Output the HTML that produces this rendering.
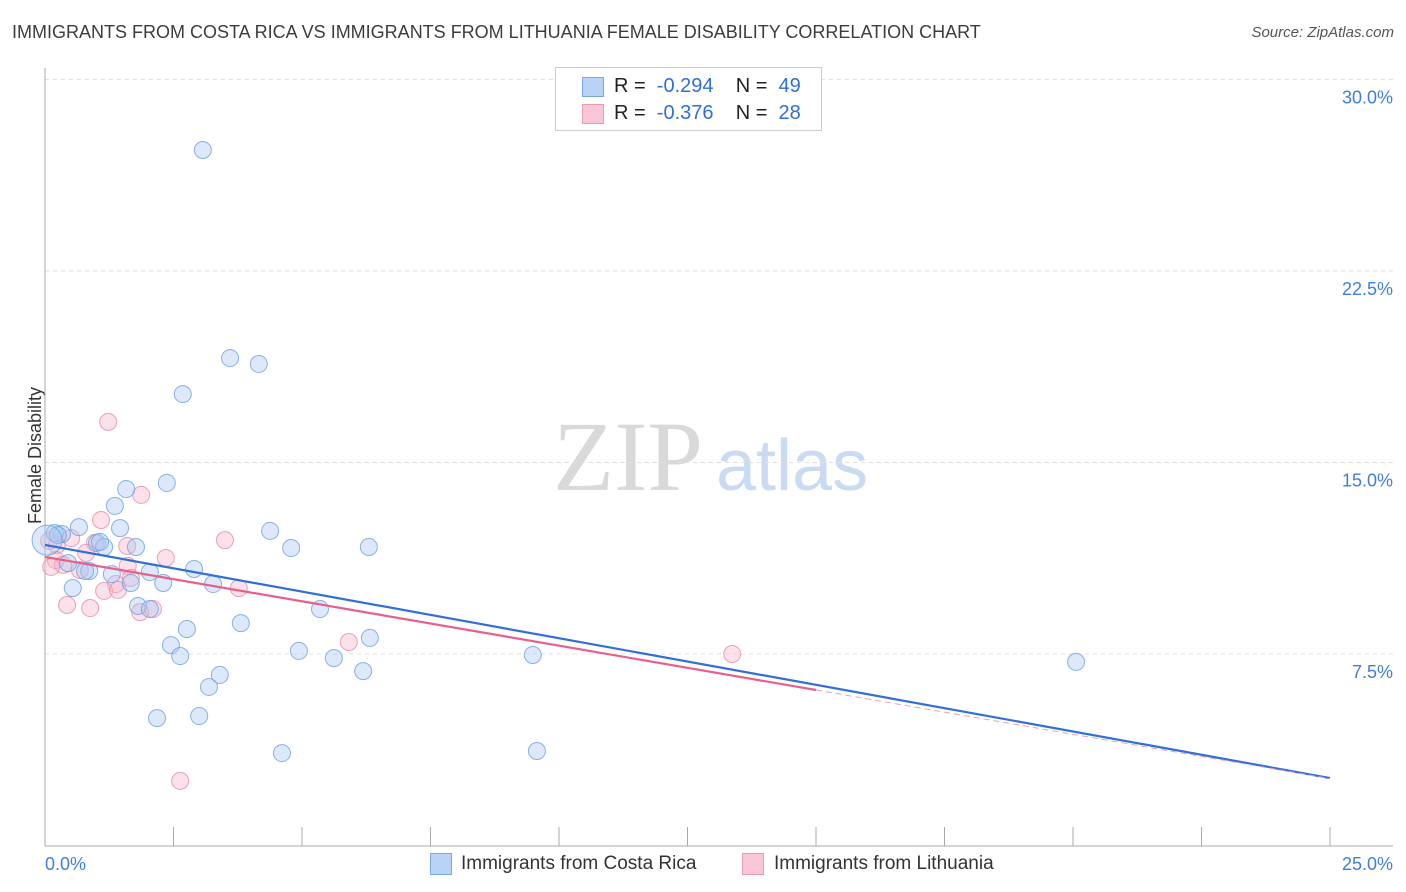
<!DOCTYPE html>
<html><head><meta charset="utf-8">
<style>
body{margin:0;background:#fff;font-family:"Liberation Sans",sans-serif;}
#wrap{position:relative;width:1406px;height:892px;overflow:hidden;}
.t{position:absolute;white-space:nowrap;}
</style></head>
<body>
<div id="wrap">
<div class="t" style="left:12px;top:22px;font-size:18px;color:#3c3c3c;">IMMIGRANTS FROM COSTA RICA VS IMMIGRANTS FROM LITHUANIA FEMALE DISABILITY CORRELATION CHART</div>
<div class="t" style="right:12px;top:24px;font-size:15px;color:#555;font-style:italic;">Source: ZipAtlas.com</div>
<div class="t" style="left:-33px;top:445px;font-size:18px;color:#333;transform:rotate(-90deg);">Female Disability</div>
<svg id="svg" width="1406" height="892" style="position:absolute;left:0;top:0;"></svg>
<div style="position:absolute;left:555px;top:67px;width:265px;height:62px;border:1px solid #ccc;background:#fff;font-size:20px;">
 <div style="position:absolute;left:26px;top:9px;width:20px;height:18px;background:#b8d3f5;border:1px solid #7aa8e6;"></div>
 <div class="t" style="left:58px;top:7px;color:#222;">R = &nbsp;<span style="color:#2f6fd6">-0.294</span>&nbsp;&nbsp;&nbsp;&nbsp;N = &nbsp;<span style="color:#2f6fd6">49</span></div>
 <div style="position:absolute;left:26px;top:36px;width:20px;height:18px;background:#f8c6d6;border:1px solid #eb9ab5;"></div>
 <div class="t" style="left:58px;top:34px;color:#222;">R = &nbsp;<span style="color:#2f6fd6">-0.376</span>&nbsp;&nbsp;&nbsp;&nbsp;N = &nbsp;<span style="color:#2f6fd6">28</span></div>
</div>
<div style="position:absolute;left:430px;top:853px;width:20px;height:20px;background:#b8d3f5;border:1px solid #7aa8e6;"></div>
<div class="t" style="left:461px;top:853px;font-size:19px;color:#333;">Immigrants from Costa Rica</div>
<div style="position:absolute;left:742px;top:853px;width:20px;height:20px;background:#f8c6d6;border:1px solid #eb9ab5;"></div>
<div class="t" style="left:774px;top:853px;font-size:19px;color:#333;">Immigrants from Lithuania</div>
</div>
<script>
const blueX=[3.07,3.60,4.16,2.68,2.37,1.58,1.36,0.66,0.33,0.19,1.46,1.01,1.15,1.77,4.38,4.79,6.30,0.45,0.86,1.30,2.04,2.90,2.30,3.27,0.54,1.67,1.81,2.04,5.35,3.81,2.76,2.45,2.63,4.94,5.62,6.32,6.19,9.49,3.40,3.19,2.18,3.00,4.61,9.57,20.06,0.25,0.78,1.07,0.04];
const blueY=[27.24,19.09,18.86,17.68,14.20,13.96,13.30,12.47,12.20,12.24,12.43,11.85,11.69,11.69,12.32,11.65,11.69,11.06,10.75,10.63,10.71,10.83,10.28,10.24,10.08,10.28,9.38,9.26,9.26,8.71,8.48,7.85,7.42,7.62,7.34,8.13,6.83,7.46,6.68,6.21,4.99,5.07,3.62,3.70,7.19,12.16,10.75,11.89,11.96];
const pinkX=[1.23,1.87,1.09,0.08,0.23,0.51,0.97,1.60,0.80,2.35,3.50,0.21,0.35,0.12,0.68,1.61,1.67,1.38,1.15,1.42,3.77,0.43,0.88,1.85,2.10,5.91,13.37,2.63];
const pinkY=[16.59,13.73,12.75,11.93,11.77,12.04,11.85,11.73,11.46,11.26,11.96,11.18,10.99,10.91,10.79,10.95,10.48,10.24,9.97,10.01,10.08,9.42,9.30,9.14,9.26,7.97,7.50,2.53];
const blueTrend=[11.77,2.64];
const pinkTrend=[11.30,6.09,2.62];
const pinkTrendX=[0,15,25];
const yTicks=[7.5,15,22.5,30];
const yTickLabels=["7.5%","15.0%","22.5%","30.0%"];

const X=v=>45+v/25*1285;
const Y=v=>845.5-v/7.5*191.5;
const svg=document.getElementById('svg');
const NS='http://www.w3.org/2000/svg';
function mk(tag,attrs){const e=document.createElementNS(NS,tag);for(const k in attrs)e.setAttribute(k,attrs[k]);svg.appendChild(e);return e;}
let w=mk('text',{x:553,y:490,'font-size':100,fill:'#d9d9d9','font-family':'Liberation Serif, serif'});w.textContent='ZIP';


let w2=mk('text',{x:716,y:490,'font-size':72,fill:'#c8dbf2','font-family':'Liberation Sans, sans-serif'});w2.textContent='atlas';


yTicks.forEach((v,i)=>{
 const g=mk('line',{x1:45,x2:1393,y1:Y(v),y2:Y(v),stroke:'#e0e0e0','stroke-dasharray':'4,4'});
 
 
 const t=mk('text',{x:1393,y:Y(v)+24,'text-anchor':'end','font-size':18,fill:'#3f7fd9','font-family':'Liberation Sans, sans-serif'});
 t.textContent=yTickLabels[i];
 
 
});
let ax=mk('line',{x1:45,x2:45,y1:68,y2:846,stroke:'#aaa'});


let axx=mk('line',{x1:45,x2:1393,y1:846,y2:846,stroke:'#aaa'});


for(let i=0;i<=10;i++){
 const tk=mk('line',{x1:X(i*2.5),x2:X(i*2.5),y1:827,y2:846,stroke:'#aaa'});
 
 
}
let xl0=mk('text',{x:45,y:870,'font-size':18,fill:'#3f7fd9','font-family':'Liberation Sans, sans-serif'});xl0.textContent='0.0%';


let xl1=mk('text',{x:1393,y:870,'text-anchor':'end','font-size':18,fill:'#3f7fd9','font-family':'Liberation Sans, sans-serif'});xl1.textContent='25.0%';


function pts(xs,ys,fill,stroke,name){
 xs.forEach((v,i)=>{
  const big=(name==='point-costa-rica'&&i===xs.length-1);
  const c=mk('circle',{cx:X(v),cy:Y(ys[i]),r:big?15:8.5,fill:fill,'fill-opacity':0.4,stroke:stroke,'stroke-opacity':0.8,'stroke-width':1});
  
  
 });
}
pts(pinkX,pinkY,'#f5b5c9','#e88aa9','point-lithuania');
pts(blueX,blueY,'#a9c9f2','#6a9fe2','point-costa-rica');
let bl=mk('line',{x1:X(0),y1:Y(blueTrend[0]),x2:X(25),y2:Y(blueTrend[1]),stroke:'#2f6fd6','stroke-width':2.2});


let pl=mk('line',{x1:X(pinkTrendX[0]),y1:Y(pinkTrend[0]),x2:X(pinkTrendX[1]),y2:Y(pinkTrend[1]),stroke:'#e8608a','stroke-width':2.2});


let pd=mk('line',{x1:X(pinkTrendX[1]),y1:Y(pinkTrend[1]),x2:X(pinkTrendX[2]),y2:Y(pinkTrend[2]),stroke:'#e8a0b8','stroke-width':1,'stroke-dasharray':'6,4'});


</script>
</body></html>
